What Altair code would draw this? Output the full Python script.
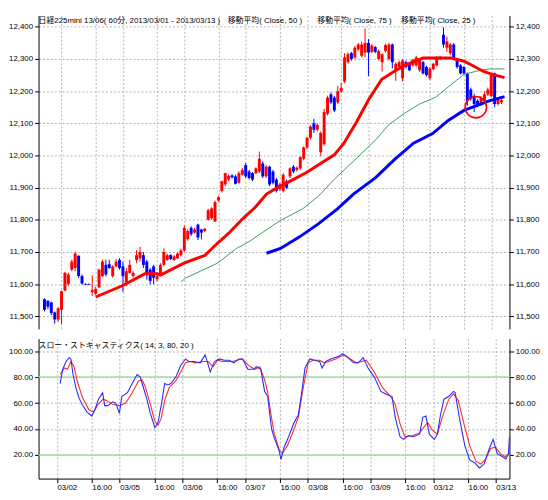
import altair as alt
import pandas as pd

# ---------------- data ----------------
opens = [11553,11548,11543,11512,11490,11520,11580,11600,11645,11650,
         11688,11625,11600,11600,11575,11570,11590,11625,11660,11662,
         11625,11655,11675,11655,11605,11635,11625,11675,11680,11690,
         11670,11645,11655,11615,11630,11660,11675,11690,11675,11680,
         11690,11705,11740,11775,11760,11785,11770,11765,11800,11805,
         11795,11860,11890,11910,11925,11938,11935,11915,11940,11970,
         11950,11945,11945,11950,11975,11935,11965,11950,11925,11895,
         11890,11920,11935,11965,11955,11960,11990,12025,12055,12100,
         12080,12010,12035,12130,12190,12180,12165,12200,12230,12290,
         12318,12305,12330,12310,12320,12350,12322,12337,12300,12290,
         12325,12300,12345,12265,12275,12240,12290,12285,12280,12280,
         12265,12290,12275,12240,12268,12280,12305,12375,12335,12318,
         12345,12298,12280,12275,12255,12205,12185,12170,12160,12170,
         12190,12185,12255,12160,12165]
highs = [11556,11550,11545,11515,11528,11580,11638,11635,11676,11701,
         11690,11630,11603,11602,11627,11592,11648,11676,11676,11676,
         11658,11678,11681,11670,11650,11676,11640,11706,11716,11700,
         11675,11650,11660,11628,11665,11711,11695,11693,11690,11698,
         11710,11783,11770,11780,11775,11788,11772,11775,11834,11839,
         11860,11875,11921,11946,11941,11942,11940,11951,11961,11977,
         11955,11948,11963,12012,11982,11970,11968,11955,11930,11915,
         11945,11925,11963,11970,11966,11997,12028,12058,12094,12114,
         12100,12075,12145,12186,12196,12185,12216,12226,12318,12320,
         12322,12340,12350,12354,12395,12362,12346,12340,12330,12318,
         12348,12350,12348,12290,12295,12300,12295,12290,12300,12310,
         12303,12294,12279,12274,12288,12310,12310,12398,12370,12350,
         12350,12302,12284,12278,12258,12211,12192,12175,12185,12200,
         12211,12257,12258,12180,12175]
lows = [11515,11522,11504,11477,11482,11476,11578,11594,11640,11640,
        11619,11598,11597,11597,11563,11566,11588,11622,11624,11648,
        11620,11653,11645,11576,11594,11633,11620,11665,11670,11650,
        11614,11599,11599,11609,11628,11655,11672,11675,11672,11678,
        11686,11700,11735,11750,11757,11737,11739,11762,11798,11800,
        11793,11856,11885,11905,11920,11928,11910,11912,11937,11930,
        11925,11920,11942,11945,11930,11930,11905,11910,11885,11890,
        11885,11895,11930,11945,11950,11955,11985,12020,12050,12070,
        12075,11997,12030,12125,12160,12135,12160,12195,12225,12285,
        12295,12300,12325,12305,12305,12247,12318,12318,12295,12261,
        12320,12295,12271,12232,12270,12230,12270,12262,12276,12276,
        12260,12252,12245,12235,12265,12277,12296,12335,12322,12312,
        12296,12270,12252,12250,12155,12170,12135,12150,12155,12165,
        12185,12180,12150,12155,12160]
closes = [11520,11530,11510,11490,11525,11578,11635,11630,11670,11695,
          11625,11602,11598,11598,11582,11585,11645,11670,11630,11650,
          11655,11670,11650,11625,11640,11660,11635,11690,11700,11660,
          11630,11610,11620,11625,11660,11700,11690,11678,11686,11695,
          11705,11775,11765,11755,11770,11745,11760,11772,11830,11835,
          11855,11870,11920,11945,11937,11932,11912,11945,11955,11935,
          11930,11925,11960,11990,11935,11965,11910,11915,11890,11910,
          11940,11900,11960,11950,11962,11995,12025,12055,12090,12080,
          12095,12070,12135,12180,12165,12140,12200,12210,12305,12315,
          12300,12335,12345,12345,12350,12320,12342,12322,12325,12315,
          12343,12345,12290,12285,12290,12295,12275,12265,12298,12305,
          12300,12255,12250,12270,12285,12305,12300,12345,12355,12345,
          12300,12275,12255,12255,12170,12176,12160,12155,12180,12190,
          12205,12250,12160,12175,12172]
bar_index = list(range(len(opens)))

ma50_bar = [15.0,22.8,29.4,33.1,34.0,40.9,47.0,50.7,54.4,58.1,61.8,65.1,68.3,72.9,
            76.7,81.3,85.0,87.8,91.5,95.2,98.9,102.6,106.3,111.0,114.7,119.3,123.0,
            125.8,128.6,131.3,134.9]
ma50_val = [11560,11595,11632,11632,11628,11665,11689,11727,11762,11803,11839,11880,
            11900,11925,11946,11977,12002,12038,12104,12176,12237,12262,12283,12303,
            12303,12303,12293,12278,12262,12252,12242]
ma75_bar = [40.0,41.4,50.7,56.3,60.0,65.5,69.2,75.7,80.4,85.0,90.6,97.1,100.8,105.4,
            110.0,114.7,119.3,123.0,126.7,130.4,134.9]
ma75_val = [11607,11619,11665,11711,11732,11772,11798,11834,11874,11926,11982,12048,
            12094,12130,12160,12181,12221,12252,12262,12269,12269]
ma25_bar = [65.1,69.2,74.8,80.4,85.9,90.6,97.1,102.6,108.2,113.8,118.4,123.0,126.7,
            130.4,134.9]
ma25_val = [11696,11711,11747,11788,11834,11880,11931,11987,12038,12068,12109,12140,
            12155,12170,12183]

stoch_k_bar = [5.9,6.6,7.6,8.5,9.0,9.6,10.4,11.3,12.2,13.6,15.0,15.9,16.9,18.1,18.7,
               19.6,21.0,21.9,22.9,23.6,25.2,26.6,28.0,28.9,29.8,30.8,31.7,33.1,34.0,
               34.9,35.9,36.8,37.7,39.1,40.5,41.9,42.8,44.2,46.1,47.5,47.9,49.0,50.2,
               51.6,53.0,54.4,55.8,57.2,58.3,59.8,61.4,62.3,63.5,64.6,65.5,66.6,67.4,
               68.8,69.3,70.2,71.5,72.9,74.3,75.3,76.2,77.6,79.0,80.4,81.1,82.2,83.6,
               85.9,86.9,88.2,90.1,91.5,92.9,94.3,96.1,98.0,99.4,101.2,102.1,103.5,
               104.5,105.9,107.2,109.1,110.0,110.9,111.9,113.3,114.2,115.1,116.1,
               117.4,118.8,119.3,120.7,122.1,123.5,124.9,126.3,127.6,129.0,130.2,
               131.4,132.7,133.9,134.6,134.9]
stoch_k_val = [75,86,92,95,94,82,72,64,59,53,50,55,63,68,58,58,61,60,52,65,68,75,82,
               80,72,63,53,41,45,58,75,74,75,80,89,94,92,92,91,97,94,84,92,94,93,93,
               91,94,94,86,86,88,86,69,65,40,33,23,16.5,26,34,44,51,69,87,94,93,92,
               87,92,94,96,98,96,91,91,95,87,80,69,67,65,49,34,32,35,34,36,49,50,36,
               32,36,51,63,65,69,68,46,27,16,14,10,13,24,32,21,19,17,21,34]
stoch_d_bar = [5.9,7.1,8.0,9.0,9.9,10.8,12.2,14.1,15.5,16.8,18.2,19.2,21.0,22.9,24.7,
               26.6,28.4,29.4,30.3,31.7,33.1,34.0,34.9,35.9,37.2,39.1,40.5,41.9,43.3,
               44.7,47.0,48.4,49.8,51.1,52.5,55.3,58.1,60.0,61.8,63.2,64.6,65.5,66.5,
               67.4,68.8,69.7,71.1,72.5,74.3,75.7,77.1,78.5,80.4,81.7,83.1,85.0,87.3,
               89.2,91.0,92.4,93.8,96.1,98.4,100.8,102.1,103.5,104.9,107.2,109.1,
               111.4,112.8,114.2,115.6,117.5,118.8,120.2,122.1,123.5,125.3,126.7,
               128.1,129.5,130.9,132.3,133.7,134.8]
stoch_d_val = [82,87,86,92,88,77,65,55,53,59,63,62,59,58,60,68,77,78,73,60,46,43,48,
               62,72,77,84,91,92,91,92,92,88,93,92,92,94,89,86,88,78,68,50,36,24,21,
               27,36,49,72,91,93,93,91,92,94,97,94,91,92,93,84,72,65,59,44,34,35,37,
               45,39,36,49,63,67,62,41,27,15,13,17,25,26,21,18.5,21]
stoch_levels = [20, 80]

price_ticks = [11500, 11600, 11700, 11800, 11900, 12000, 12100, 12200, 12300, 12400]
stoch_ticks = [20, 40, 60, 80, 100]
time_tick_bar = [5, 15, 23, 33, 41, 51, 59, 69, 77, 87, 95, 105, 113, 123, 131]
time_tick_label = ["03/02", "16:00", "03/05", "16:00", "03/06", "16:00", "03/07", "16:00",
                   "03/08", "16:00", "03/09", "16:00", "03/12", "16:00", "03/13"]
circle_bar = [126.5]
circle_val = [12150]

# ---------------- frames ----------------
candles = pd.DataFrame({"i": bar_index, "open": opens, "high": highs,
                        "low": lows, "close": closes})
candles["dir"] = ["up" if c >= o else "down" for o, c in zip(opens, closes)]
ma50 = pd.DataFrame({"i": ma50_bar, "v": ma50_val})
ma75 = pd.DataFrame({"i": ma75_bar, "v": ma75_val})
ma25 = pd.DataFrame({"i": ma25_bar, "v": ma25_val})
stk = pd.DataFrame({"i": stoch_k_bar, "v": stoch_k_val})
std = pd.DataFrame({"i": stoch_d_bar, "v": stoch_d_val})
lev = pd.DataFrame({"v": stoch_levels})
circ = pd.DataFrame({"i": circle_bar, "v": circle_val})
one = pd.DataFrame({"k": [0]})

# ---------------- styling ----------------
W, H1, H2 = 478, 318, 142
GRID = "#b4b4b4"
AXF = "Liberation Sans"
TXF = "Liberation Sans, Noto Sans CJK JP"
EXT = 26

x_scale = alt.Scale(domain=[-0.3, 134.9], nice=False, zero=False)
y_price = alt.Scale(domain=[11461, 12435], nice=False, zero=False)
y_stoch = alt.Scale(domain=[1.8, 109.6], nice=False, zero=False)

label_expr = ("[" + ",".join("'%s'" % s for s in time_tick_label) + "][indexof(["
              + ",".join(str(v) for v in time_tick_bar) + "], datum.value)]")

x_grid_axis = alt.Axis(values=time_tick_bar, labels=False, ticks=False, domain=False,
                       grid=True, gridDash=[2, 2], gridColor=GRID, title=None)
x_bottom_axis = alt.Axis(values=time_tick_bar, labelExpr=label_expr, grid=True,
                         gridDash=[2, 2], gridColor=GRID, title=None, tickSize=4,
                         labelAlign="left", labelPadding=1, labelOverlap=False,
                         labelFlush=False, labelBound=False)


def xq(axis):
    return alt.X("i:Q", scale=x_scale, axis=axis)


def left_axis(values, fmt):
    return alt.Axis(values=values, format=fmt, grid=True, gridDash=[2, 2],
                    gridColor=GRID, title=None, tickSize=4, labelPadding=2,
                    minExtent=EXT, maxExtent=EXT, orient="left")


def right_axis(values, fmt):
    return alt.Axis(values=values, format=fmt, grid=False, title=None, tickSize=4,
                    labelPadding=2, minExtent=EXT, maxExtent=EXT, orient="right")


pax = left_axis(price_ticks, ",d")
color = alt.Color("dir:N", scale=alt.Scale(domain=["up", "down"],
                                           range=["#ff0000", "#0000ff"]), legend=None)

wicks = alt.Chart(candles).mark_rule(strokeWidth=1).encode(
    x=xq(x_grid_axis), y=alt.Y("low:Q", scale=y_price, axis=pax), y2="high:Q", color=color)
bodies = alt.Chart(candles).mark_bar(size=3).encode(
    x=xq(x_grid_axis), y=alt.Y("open:Q", scale=y_price, axis=pax), y2="close:Q", color=color)


def ma_line(df, col, w):
    return alt.Chart(df).mark_line(color=col, strokeWidth=w).encode(
        x=xq(x_grid_axis), y=alt.Y("v:Q", scale=y_price, axis=pax))


l75 = ma_line(ma75, "#3a9e5f", 1)
l50 = ma_line(ma50, "#ff0000", 3)
l25 = ma_line(ma25, "#0000ff", 3)
ring = alt.Chart(circ).mark_point(shape="circle", filled=False, color="#ff0000",
                                  size=470, strokeWidth=1.6, opacity=1).encode(
    x=xq(x_grid_axis), y=alt.Y("v:Q", scale=y_price, axis=pax))


def label(txt, px, py=6):
    return alt.Chart(one).mark_text(text=txt, align="left", baseline="middle",
                                    font=TXF, fontSize=8, color="#000000").encode(
        x=alt.value(px), y=alt.value(py))


t1 = label("日経225mini 13/06( 60分, 2013/03/01 - 2013/03/13 )", 0)
t2 = label("移動平均( Close, 50 )", 192)
t3 = label("移動平均( Close, 75 )", 283)
t4 = label("移動平均( Close, 25 )", 368)

price_left = alt.layer(wicks, bodies, l75, l50, l25, ring, t1, t2, t3, t4)
price_right = alt.Chart(candles).mark_rule(opacity=0).encode(
    x=xq(x_grid_axis),
    y=alt.Y("high:Q", scale=y_price, axis=right_axis(price_ticks, ",d")))
price = alt.layer(price_left, price_right).resolve_scale(y="independent").properties(
    width=W, height=H1)

sax = left_axis(stoch_ticks, ".2f")
green = alt.Chart(lev).mark_rule(color="#a8d8a8", strokeWidth=1.5).encode(
    y=alt.Y("v:Q", scale=y_stoch, axis=sax))
k_line = alt.Chart(stk).mark_line(color="#2b2bff", strokeWidth=1.1).encode(
    x=xq(x_bottom_axis), y=alt.Y("v:Q", scale=y_stoch, axis=sax))
d_line = alt.Chart(std).mark_line(color="#ff2b2b", strokeWidth=1.1).encode(
    x=xq(x_bottom_axis), y=alt.Y("v:Q", scale=y_stoch, axis=sax))
t5 = label("スロー・ストキャスティクス( 14, 3, 80, 20 )", 0, 7)
stoch_left = alt.layer(green, d_line, k_line, t5)
stoch_right = alt.Chart(lev).mark_rule(opacity=0).encode(
    y=alt.Y("v:Q", scale=y_stoch, axis=right_axis(stoch_ticks, ".2f")))
stoch = alt.layer(stoch_left, stoch_right).resolve_scale(y="independent").properties(
    width=W, height=H2)

chart = alt.vconcat(price, stoch, spacing=10).properties(
    padding={"left": 0, "top": 4, "right": 0, "bottom": 0},
    background="#ffffff",
).configure_view(strokeWidth=0).configure_axis(
    labelFont=AXF, labelFontSize=8, labelColor="#000000",
    domainColor="#000000", tickColor="#000000")

chart.save("out.html", embed_options={"renderer": "svg", "actions": False})
